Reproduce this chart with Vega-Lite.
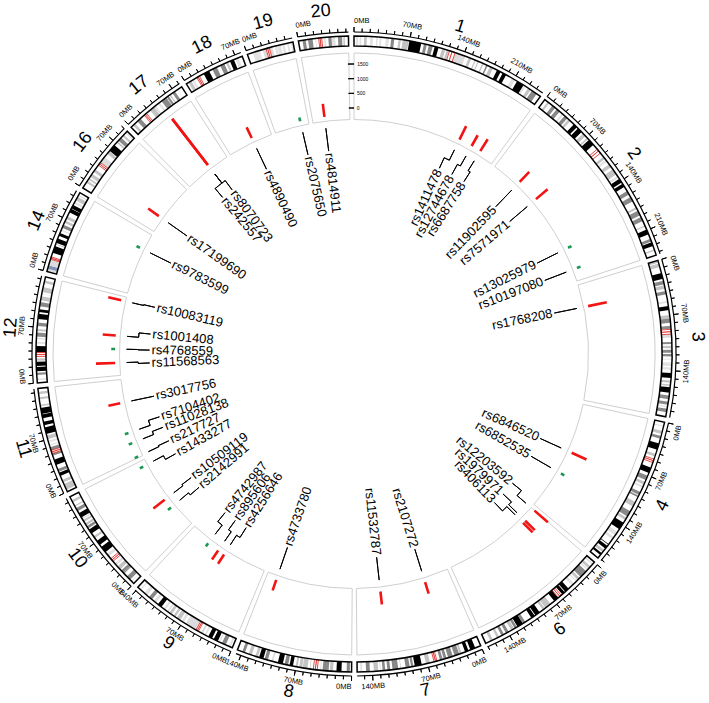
{
"$schema": "https://vega.github.io/schema/vega-lite/v6.json",
"width": 708, "height": 708, "autosize": "none", "padding": 0,
"background": "white",
"config": {"view": {"stroke": null}, "text": {"font": "Liberation Sans"}},
"resolve": {"scale": {"angle": "independent"}},
"datasets": {
"chroms": [
{"c":"1","s":0,"e":249.25,"m":124.63},{"c":"2","s":256.2,"e":499.4,"m":377.8},{"c":"3","s":506.35,"e":704.37,"m":605.36},
{"c":"4","s":711.32,"e":902.47,"m":806.9},{"c":"6","s":909.41,"e":1080.53,"m":994.97},{"c":"7","s":1087.48,"e":1246.62,"m":1167.05},
{"c":"8","s":1253.57,"e":1399.93,"m":1326.75},{"c":"9","s":1406.88,"e":1548.09,"m":1477.48},{"c":"10","s":1555.03,"e":1690.56,"m":1622.8},
{"c":"11","s":1697.51,"e":1832.52,"m":1765.01},{"c":"12","s":1839.46,"e":1973.31,"m":1906.39},{"c":"14","s":1980.26,"e":2087.61,"m":2033.94},
{"c":"16","s":2094.56,"e":2184.91,"m":2139.74},{"c":"17","s":2191.86,"e":2273.06,"m":2232.46},{"c":"18","s":2280.01,"e":2358.09,"m":2319.05},
{"c":"19","s":2365.03,"e":2424.16,"m":2394.6},{"c":"20","s":2431.11,"e":2494.14,"m":2462.63}
],
"bands": [
{"s":2.3,"e":5.4,"st":"gpos25"},{"s":7.2,"e":9.2,"st":"gpos25"},{"s":12.7,"e":16.2,"st":"gpos50"},{"s":20.4,"e":23.9,"st":"gpos25"},{"s":28,"e":30,"st":"gpos25"},{"s":32.3,"e":34.6,"st":"gpos25"},{"s":40.1,"e":44.1,"st":"gpos25"},{"s":46.8,"e":50.7,"st":"gpos75"},{"s":56.1,"e":59,"st":"gpos50"},{"s":61.3,"e":68.9,"st":"gpos50"},{"s":69.7,"e":84.9,"st":"gpos100"},{"s":88.4,"e":92,"st":"gpos75"},{"s":94.7,"e":99.7,"st":"gpos75"},{"s":102.2,"e":107.2,"st":"gpos100"},{"s":111.8,"e":116.1,"st":"gpos50"},{"s":117.8,"e":120.7,"st":"gpos50"},{"s":121.5,"e":125,"st":"acen"},{"s":125,"e":128.9,"st":"acen"},{"s":128.9,"e":142.6,"st":"gvar"},{"s":147,"e":150.3,"st":"gpos50"},{"s":155,"e":156.5,"st":"gpos50"},{"s":159.1,"e":160.5,"st":"gpos50"},{"s":165.5,"e":167.2,"st":"gpos50"},{"s":170.9,"e":172.9,"st":"gpos75"},{"s":176,"e":180.3,"st":"gpos50"},{"s":185.8,"e":190.8,"st":"gpos100"},{"s":193.8,"e":198.7,"st":"gpos100"},{"s":207.2,"e":211.5,"st":"gpos25"},{"s":214.5,"e":224.1,"st":"gpos100"},{"s":224.6,"e":227,"st":"gpos25"},{"s":230.7,"e":234.7,"st":"gpos50"},{"s":236.6,"e":243.7,"st":"gpos75"},
{"s":260.6,"e":263.3,"st":"gpos50"},{"s":268.4,"e":272.9,"st":"gpos75"},{"s":275.4,"e":280.2,"st":"gpos75"},{"s":284.1,"e":286.2,"st":"gpos25"},{"s":288.3,"e":292.8,"st":"gpos75"},{"s":294.8,"e":298,"st":"gpos50"},{"s":304,"e":309.1,"st":"gpos100"},{"s":311.2,"e":317.5,"st":"gpos100"},{"s":320.3,"e":324.8,"st":"gpos50"},{"s":327.7,"e":329.7,"st":"gpos50"},{"s":331.2,"e":339.5,"st":"gpos100"},{"s":346.7,"e":349.5,"st":"acen"},{"s":349.5,"e":353,"st":"acen"},{"s":358.9,"e":362.2,"st":"gpos50"},{"s":363.7,"e":366.4,"st":"gpos25"},{"s":370.6,"e":375,"st":"gpos50"},{"s":378.6,"e":386.1,"st":"gpos50"},{"s":388.7,"e":391.3,"st":"gpos25"},{"s":393,"e":398.4,"st":"gpos100"},{"s":400.3,"e":404.9,"st":"gpos100"},{"s":411.1,"e":416,"st":"gpos75"},{"s":419.9,"e":425.9,"st":"gpos75"},{"s":434.2,"e":436.8,"st":"gpos50"},{"s":439.2,"e":445.6,"st":"gpos75"},{"s":448.1,"e":453.6,"st":"gpos75"},{"s":459.5,"e":461.1,"st":"gpos50"},{"s":465.2,"e":471.5,"st":"gpos100"},{"s":477.7,"e":481.4,"st":"gpos75"},{"s":482.3,"e":487.2,"st":"gpos100"},{"s":491.8,"e":493.5,"st":"gpos50"},
{"s":506.4,"e":509.2,"st":"gpos50"},{"s":510.4,"e":515.1,"st":"gpos50"},{"s":522.8,"e":530.3,"st":"gpos100"},{"s":532.8,"e":537.3,"st":"gpos75"},{"s":538.5,"e":542.9,"st":"gpos50"},{"s":545.8,"e":550.1,"st":"gpos75"},{"s":558.7,"e":560.8,"st":"gpos25"},{"s":565,"e":570.1,"st":"gpos100"},{"s":576.2,"e":580.6,"st":"gpos50"},{"s":580.6,"e":586.2,"st":"gpos75"},{"s":589.9,"e":593.6,"st":"gpos75"},{"s":594.3,"e":597.4,"st":"acen"},{"s":597.4,"e":600.3,"st":"acen"},{"s":600.3,"e":604.7,"st":"gvar"},{"s":610.2,"e":612.6,"st":"gpos75"},{"s":614.8,"e":618,"st":"gpos50"},{"s":620.1,"e":623.7,"st":"gpos75"},{"s":625.4,"e":628.3,"st":"gpos75"},{"s":631.2,"e":632.5,"st":"gpos25"},{"s":635.9,"e":640.4,"st":"gpos25"},{"s":642.1,"e":645.1,"st":"gpos25"},{"s":649.2,"e":655.3,"st":"gpos100"},{"s":658.5,"e":661.4,"st":"gpos50"},{"s":663.4,"e":665.4,"st":"gpos50"},{"s":667.1,"e":674,"st":"gpos100"},{"s":677.3,"e":682.1,"st":"gpos75"},{"s":685.4,"e":689.1,"st":"gpos75"},{"s":690.9,"e":692.4,"st":"gpos25"},{"s":694.3,"e":698.7,"st":"gpos75"},
{"s":715.8,"e":717.3,"st":"gpos25"},{"s":722.6,"e":726.5,"st":"gpos50"},{"s":729.1,"e":732.6,"st":"gpos75"},{"s":739,"e":747.1,"st":"gpos100"},{"s":752.5,"e":755.9,"st":"gpos50"},{"s":759.5,"e":761.7,"st":"acen"},{"s":761.7,"e":764,"st":"acen"},{"s":770.8,"e":777.9,"st":"gpos100"},{"s":781.8,"e":787.6,"st":"gpos75"},{"s":790.2,"e":793.7,"st":"gpos50"},{"s":795.4,"e":798.2,"st":"gpos25"},{"s":804.1,"e":808.1,"st":"gpos75"},{"s":809.2,"e":811.4,"st":"gpos75"},{"s":818,"e":824.5,"st":"gpos50"},{"s":831.2,"e":838.6,"st":"gpos75"},{"s":840.5,"e":843.9,"st":"gpos50"},{"s":848,"e":857.6,"st":"gpos100"},{"s":861.6,"e":866.9,"st":"gpos25"},{"s":869.4,"e":872.9,"st":"gpos25"},{"s":880.5,"e":881.5,"st":"gpos100"},{"s":883.2,"e":887.6,"st":"gpos100"},{"s":889.8,"e":893.3,"st":"gpos50"},{"s":894.8,"e":897.8,"st":"gpos100"},
{"s":911.7,"e":913.6,"st":"gpos25"},{"s":916.5,"e":920,"st":"gpos50"},{"s":921,"e":922.8,"st":"gpos25"},{"s":924.6,"e":934.6,"st":"gpos75"},{"s":936.4,"e":939.8,"st":"gpos50"},{"s":941.5,"e":942.9,"st":"gpos25"},{"s":946,"e":949.9,"st":"gpos25"},{"s":955.6,"e":961.2,"st":"gpos100"},{"s":962.3,"e":966.4,"st":"gpos100"},{"s":968.1,"e":970.4,"st":"acen"},{"s":970.4,"e":972.7,"st":"acen"},{"s":972.8,"e":979.4,"st":"gpos100"},{"s":985.3,"e":993.3,"st":"gpos50"},{"s":994.3,"e":997.4,"st":"gpos50"},{"s":1002.5,"e":1008.9,"st":"gpos100"},{"s":1010,"e":1014.9,"st":"gpos100"},{"s":1024,"e":1027.7,"st":"gpos75"},{"s":1027.9,"e":1035.5,"st":"gpos100"},{"s":1036.5,"e":1039.7,"st":"gpos75"},{"s":1040.6,"e":1044.6,"st":"gpos50"},{"s":1048.4,"e":1052.2,"st":"gpos75"},{"s":1055,"e":1058.4,"st":"gpos75"},{"s":1061.9,"e":1064.9,"st":"gpos50"},{"s":1070.4,"e":1073.9,"st":"gpos50"},
{"s":1094.8,"e":1101.3,"st":"gpos100"},{"s":1104,"e":1108.4,"st":"gpos100"},{"s":1113,"e":1115.5,"st":"gpos50"},{"s":1116.3,"e":1122.5,"st":"gpos75"},{"s":1124.7,"e":1130.8,"st":"gpos75"},{"s":1132.9,"e":1136.5,"st":"gpos75"},{"s":1138,"e":1141.5,"st":"gpos75"},{"s":1145.5,"e":1147.4,"st":"acen"},{"s":1147.4,"e":1149.2,"st":"acen"},{"s":1154.5,"e":1159.7,"st":"gpos50"},{"s":1165,"e":1173.9,"st":"gpos100"},{"s":1175.7,"e":1178.6,"st":"gpos75"},{"s":1180.3,"e":1185.5,"st":"gpos75"},{"s":1191.3,"e":1192,"st":"gpos50"},{"s":1194.9,"e":1202.1,"st":"gpos75"},{"s":1204.9,"e":1208.6,"st":"gpos75"},{"s":1211.3,"e":1214.6,"st":"gpos75"},{"s":1216.7,"e":1217.9,"st":"gpos25"},{"s":1220.1,"e":1225.7,"st":"gpos50"},{"s":1230.6,"e":1235.4,"st":"gpos75"},{"s":1240.1,"e":1242.6,"st":"gpos25"},
{"s":1255.8,"e":1259.8,"st":"gpos75"},{"s":1266.3,"e":1272.6,"st":"gpos100"},{"s":1276.9,"e":1281,"st":"gpos50"},{"s":1282.4,"e":1290.1,"st":"gpos75"},{"s":1291.9,"e":1293.3,"st":"gpos25"},{"s":1296.7,"e":1299.2,"st":"acen"},{"s":1299.2,"e":1301.7,"st":"acen"},{"s":1305.8,"e":1306.2,"st":"gpos75"},{"s":1309.1,"e":1315.2,"st":"gpos50"},{"s":1315.8,"e":1319.6,"st":"gpos50"},{"s":1321.6,"e":1324.1,"st":"gpos50"},{"s":1327.5,"e":1331.9,"st":"gpos100"},{"s":1333.7,"e":1338.2,"st":"gpos75"},{"s":1340.5,"e":1346.9,"st":"gpos100"},{"s":1352.6,"e":1355.2,"st":"gpos25"},{"s":1359.8,"e":1364.1,"st":"gpos75"},{"s":1365.7,"e":1371.3,"st":"gpos100"},{"s":1372.8,"e":1376.1,"st":"gpos50"},{"s":1380.9,"e":1385.1,"st":"gpos50"},{"s":1390,"e":1393.5,"st":"gpos75"},
{"s":1409.1,"e":1411.5,"st":"gpos25"},{"s":1415.9,"e":1421.1,"st":"gpos75"},{"s":1423.5,"e":1425.4,"st":"gpos25"},{"s":1426.8,"e":1432.5,"st":"gpos100"},{"s":1434.9,"e":1440.1,"st":"gpos100"},{"s":1443.2,"e":1445.3,"st":"gpos25"},{"s":1447.9,"e":1450.5,"st":"gvar"},{"s":1454.2,"e":1455.9,"st":"acen"},{"s":1455.9,"e":1457.6,"st":"acen"},{"s":1457.6,"e":1472.8,"st":"gvar"},{"s":1475.6,"e":1479.1,"st":"gpos25"},{"s":1480.9,"e":1486.1,"st":"gpos50"},{"s":1488,"e":1491,"st":"gpos50"},{"s":1493.8,"e":1497.3,"st":"gpos50"},{"s":1498.7,"e":1500.8,"st":"gpos25"},{"s":1503.5,"e":1506.2,"st":"gpos25"},{"s":1509.5,"e":1515.1,"st":"gpos100"},{"s":1518.2,"e":1521.8,"st":"gpos25"},{"s":1524.6,"e":1529.4,"st":"gpos75"},{"s":1532.7,"e":1537.2,"st":"gpos25"},{"s":1542.8,"e":1544.3,"st":"gpos25"},
{"s":1558,"e":1558.8,"st":"gpos25"},{"s":1561.6,"e":1567.2,"st":"gpos75"},{"s":1572.3,"e":1573.6,"st":"gpos75"},{"s":1573.7,"e":1577.6,"st":"gpos75"},{"s":1579.6,"e":1584.6,"st":"gpos50"},{"s":1586.3,"e":1589.4,"st":"gpos25"},{"s":1593,"e":1595.2,"st":"acen"},{"s":1595.2,"e":1597.3,"st":"acen"},{"s":1601.1,"e":1604.9,"st":"gpos25"},{"s":1607.9,"e":1616.2,"st":"gpos100"},{"s":1619.5,"e":1625.6,"st":"gpos100"},{"s":1629.9,"e":1632.7,"st":"gpos50"},{"s":1637,"e":1642.9,"st":"gpos100"},{"s":1644.5,"e":1647.9,"st":"gpos75"},{"s":1649.1,"e":1652,"st":"gpos50"},{"s":1654.3,"e":1656.9,"st":"gpos50"},{"s":1658,"e":1659.9,"st":"gpos25"},{"s":1660.8,"e":1666.9,"st":"gpos100"},{"s":1669.9,"e":1674.1,"st":"gpos75"},{"s":1676.7,"e":1678.1,"st":"gpos50"},{"s":1682.5,"e":1685.6,"st":"gpos50"},
{"s":1700.3,"e":1708.2,"st":"gpos50"},{"s":1710.2,"e":1713.7,"st":"gpos50"},{"s":1719.2,"e":1723.6,"st":"gpos100"},{"s":1724.7,"e":1728.5,"st":"gpos75"},{"s":1733.9,"e":1741,"st":"gpos100"},{"s":1746.3,"e":1749.1,"st":"gpos75"},{"s":1749.1,"e":1751.2,"st":"acen"},{"s":1751.2,"e":1753.2,"st":"acen"},{"s":1753.2,"e":1757.4,"st":"gpos75"},{"s":1759.2,"e":1760.9,"st":"gpos25"},{"s":1763.4,"e":1765.9,"st":"gpos25"},{"s":1767.9,"e":1772.7,"st":"gpos50"},{"s":1774.6,"e":1783.1,"st":"gpos100"},{"s":1785.8,"e":1790.3,"st":"gpos100"},{"s":1794.7,"e":1799.6,"st":"gpos100"},{"s":1800.4,"e":1807.9,"st":"gpos100"},{"s":1810,"e":1812,"st":"gpos50"},{"s":1818.7,"e":1821.4,"st":"gpos50"},{"s":1825.3,"e":1828.3,"st":"gpos50"},
{"s":1842.8,"e":1844.9,"st":"gpos25"},{"s":1849.6,"e":1852.3,"st":"gpos75"},{"s":1854.3,"e":1859.5,"st":"gpos100"},{"s":1860.8,"e":1866,"st":"gpos100"},{"s":1867.3,"e":1870.2,"st":"gpos50"},{"s":1872.8,"e":1875.3,"st":"acen"},{"s":1875.3,"e":1877.7,"st":"acen"},{"s":1877.7,"e":1885.9,"st":"gpos100"},{"s":1888.6,"e":1891,"st":"gpos25"},{"s":1894.4,"e":1896.1,"st":"gpos25"},{"s":1897.6,"e":1902.6,"st":"gpos75"},{"s":1904.6,"e":1907.2,"st":"gpos50"},{"s":1911,"e":1915.2,"st":"gpos75"},{"s":1919.8,"e":1926.2,"st":"gpos100"},{"s":1928.5,"e":1932.1,"st":"gpos100"},{"s":1935.7,"e":1941.1,"st":"gpos75"},{"s":1943.3,"e":1948.5,"st":"gpos50"},{"s":1951.2,"e":1951.8,"st":"gpos25"},{"s":1953.8,"e":1960.2,"st":"gpos50"},{"s":1965.4,"e":1968.8,"st":"gpos50"},
{"s":1980.3,"e":1984,"st":"gvar"},{"s":1984,"e":1988.4,"st":"stalk"},{"s":1988.4,"e":1996.4,"st":"gvar"},{"s":1996.4,"e":1997.9,"st":"acen"},{"s":1997.9,"e":1999.4,"st":"acen"},{"s":2004.9,"e":2013.6,"st":"gpos100"},{"s":2015.6,"e":2016.9,"st":"gpos50"},{"s":2018.1,"e":2023.8,"st":"gpos100"},{"s":2027.5,"e":2031.2,"st":"gpos100"},{"s":2034.4,"e":2035.8,"st":"gpos25"},{"s":2038.4,"e":2042.4,"st":"gpos75"},{"s":2045.1,"e":2048.2,"st":"gpos50"},{"s":2050.5,"e":2054.1,"st":"gpos50"},{"s":2059.6,"e":2064.7,"st":"gpos100"},{"s":2065.2,"e":2070.1,"st":"gpos100"},{"s":2072.2,"e":2075,"st":"gpos25"},{"s":2076.6,"e":2081.7,"st":"gpos50"},{"s":2083.5,"e":2084.3,"st":"gpos50"},
{"s":2102.5,"e":2105.1,"st":"gpos50"},{"s":2107.2,"e":2109.4,"st":"gpos50"},{"s":2111.4,"e":2115.8,"st":"gpos50"},{"s":2118.8,"e":2122.7,"st":"gpos50"},{"s":2129.2,"e":2131.2,"st":"acen"},{"s":2131.2,"e":2133.2,"st":"acen"},{"s":2133.2,"e":2141.6,"st":"gvar"},{"s":2147.2,"e":2151.3,"st":"gpos50"},{"s":2152,"e":2161.3,"st":"gpos100"},{"s":2165.4,"e":2167.5,"st":"gpos50"},{"s":2168.7,"e":2173.8,"st":"gpos75"},{"s":2176.3,"e":2178.8,"st":"gpos50"},{"s":2181.7,"e":2183.3,"st":"gpos25"},
{"s":2195.2,"e":2198.4,"st":"gpos50"},{"s":2202.6,"e":2207.9,"st":"gpos75"},{"s":2214.1,"e":2215.9,"st":"acen"},{"s":2215.9,"e":2217.7,"st":"acen"},{"s":2223.7,"e":2230,"st":"gpos50"},{"s":2230.3,"e":2232.8,"st":"gpos25"},{"s":2236.8,"e":2239.3,"st":"gpos25"},{"s":2242.1,"e":2249.5,"st":"gpos75"},{"s":2250.2,"e":2253,"st":"gpos75"},{"s":2254.5,"e":2256.1,"st":"gpos50"},{"s":2259,"e":2262.8,"st":"gpos75"},{"s":2266.7,"e":2267.2,"st":"gpos25"},
{"s":2282.9,"e":2287.1,"st":"gpos50"},{"s":2288.5,"e":2290.9,"st":"gpos25"},{"s":2295.4,"e":2297.2,"st":"acen"},{"s":2297.2,"e":2299,"st":"acen"},{"s":2305,"e":2312.7,"st":"gpos100"},{"s":2317.2,"e":2323.5,"st":"gpos75"},{"s":2328.2,"e":2333.8,"st":"gpos75"},{"s":2336.2,"e":2339,"st":"gpos50"},{"s":2341.6,"e":2346.8,"st":"gpos100"},{"s":2348.7,"e":2353.1,"st":"gpos25"},
{"s":2371.9,"e":2378.9,"st":"gpos25"},{"s":2379,"e":2381.3,"st":"gpos25"},{"s":2385,"e":2389.4,"st":"gvar"},{"s":2389.4,"e":2391.5,"st":"acen"},{"s":2391.5,"e":2393.6,"st":"acen"},{"s":2393.6,"e":2397.4,"st":"gvar"},{"s":2400.5,"e":2403.3,"st":"gpos25"},{"s":2403.7,"e":2408.4,"st":"gpos25"},{"s":2410.2,"e":2413,"st":"gpos25"},{"s":2416.4,"e":2418.6,"st":"gpos25"},{"s":2421.3,"e":2424.1,"st":"gpos25"},
{"s":2436.2,"e":2440.3,"st":"gpos75"},{"s":2443.2,"e":2449,"st":"gpos75"},{"s":2452.4,"e":2453.4,"st":"gpos25"},{"s":2456.7,"e":2458.6,"st":"acen"},{"s":2458.6,"e":2460.5,"st":"acen"},{"s":2463.2,"e":2465.5,"st":"gpos25"},{"s":2468.7,"e":2472.8,"st":"gpos75"},{"s":2473.2,"e":2477.5,"st":"gpos25"},{"s":2480.9,"e":2486.1,"st":"gpos75"},{"s":2487.6,"e":2489.5,"st":"gpos50"}
],
"ticks": [
{"p":0,"t":"0MB"},{"p":10},{"p":20},{"p":30},{"p":40},{"p":50},{"p":60},{"p":70,"t":"70MB"},{"p":80},{"p":90},{"p":100},{"p":110},{"p":120},{"p":130},{"p":140,"t":"140MB"},{"p":150},{"p":160},{"p":170},{"p":180},{"p":190},{"p":200},{"p":210,"t":"210MB"},{"p":220},{"p":230},{"p":240},
{"p":256.2,"t":"0MB"},{"p":266.2},{"p":276.2},{"p":286.2},{"p":296.2},{"p":306.2},{"p":316.2},{"p":326.2,"t":"70MB"},{"p":336.2},{"p":346.2},{"p":356.2},{"p":366.2},{"p":376.2},{"p":386.2},{"p":396.2,"t":"140MB"},{"p":406.2},{"p":416.2},{"p":426.2},{"p":436.2},{"p":446.2},{"p":456.2},{"p":466.2,"t":"210MB"},{"p":476.2},{"p":486.2},{"p":496.2},
{"p":506.35,"t":"0MB"},{"p":516.35},{"p":526.35},{"p":536.35},{"p":546.35},{"p":556.35},{"p":566.35},{"p":576.35,"t":"70MB"},{"p":586.35},{"p":596.35},{"p":606.35},{"p":616.35},{"p":626.35},{"p":636.35},{"p":646.35,"t":"140MB"},{"p":656.35},{"p":666.35},{"p":676.35},{"p":686.35},{"p":696.35},
{"p":711.32,"t":"0MB"},{"p":721.32},{"p":731.32},{"p":741.32},{"p":751.32},{"p":761.32},{"p":771.32},{"p":781.32,"t":"70MB"},{"p":791.32},{"p":801.32},{"p":811.32},{"p":821.32},{"p":831.32},{"p":841.32},{"p":851.32,"t":"140MB"},{"p":861.32},{"p":871.32},{"p":881.32},{"p":891.32},{"p":901.32},
{"p":909.41,"t":"0MB"},{"p":919.41},{"p":929.41},{"p":939.41},{"p":949.41},{"p":959.41},{"p":969.41},{"p":979.41,"t":"70MB"},{"p":989.41},{"p":999.41},{"p":1009.41},{"p":1019.41},{"p":1029.41},{"p":1039.41},{"p":1049.41,"t":"140MB"},{"p":1059.41},{"p":1069.41},{"p":1079.41},
{"p":1087.48,"t":"0MB"},{"p":1097.48},{"p":1107.48},{"p":1117.48},{"p":1127.48},{"p":1137.48},{"p":1147.48},{"p":1157.48,"t":"70MB"},{"p":1167.48},{"p":1177.48},{"p":1187.48},{"p":1197.48},{"p":1207.48},{"p":1217.48},{"p":1227.48,"t":"140MB"},{"p":1237.48},
{"p":1253.57,"t":"0MB"},{"p":1263.57},{"p":1273.57},{"p":1283.57},{"p":1293.57},{"p":1303.57},{"p":1313.57},{"p":1323.57,"t":"70MB"},{"p":1333.57},{"p":1343.57},{"p":1353.57},{"p":1363.57},{"p":1373.57},{"p":1383.57},{"p":1393.57,"t":"140MB"},
{"p":1406.88,"t":"0MB"},{"p":1416.88},{"p":1426.88},{"p":1436.88},{"p":1446.88},{"p":1456.88},{"p":1466.88},{"p":1476.88,"t":"70MB"},{"p":1486.88},{"p":1496.88},{"p":1506.88},{"p":1516.88},{"p":1526.88},{"p":1536.88},{"p":1546.88,"t":"140MB"},
{"p":1555.03,"t":"0MB"},{"p":1565.03},{"p":1575.03},{"p":1585.03},{"p":1595.03},{"p":1605.03},{"p":1615.03},{"p":1625.03,"t":"70MB"},{"p":1635.03},{"p":1645.03},{"p":1655.03},{"p":1665.03},{"p":1675.03},{"p":1685.03},
{"p":1697.51,"t":"0MB"},{"p":1707.51},{"p":1717.51},{"p":1727.51},{"p":1737.51},{"p":1747.51},{"p":1757.51},{"p":1767.51,"t":"70MB"},{"p":1777.51},{"p":1787.51},{"p":1797.51},{"p":1807.51},{"p":1817.51},{"p":1827.51},
{"p":1839.46,"t":"0MB"},{"p":1849.46},{"p":1859.46},{"p":1869.46},{"p":1879.46},{"p":1889.46},{"p":1899.46},{"p":1909.46,"t":"70MB"},{"p":1919.46},{"p":1929.46},{"p":1939.46},{"p":1949.46},{"p":1959.46},{"p":1969.46},
{"p":1980.26,"t":"0MB"},{"p":1990.26},{"p":2000.26},{"p":2010.26},{"p":2020.26},{"p":2030.26},{"p":2040.26},{"p":2050.26,"t":"70MB"},{"p":2060.26},{"p":2070.26},{"p":2080.26},
{"p":2094.56,"t":"0MB"},{"p":2104.56},{"p":2114.56},{"p":2124.56},{"p":2134.56},{"p":2144.56},{"p":2154.56},{"p":2164.56,"t":"70MB"},{"p":2174.56},{"p":2184.56},
{"p":2191.86,"t":"0MB"},{"p":2201.86},{"p":2211.86},{"p":2221.86},{"p":2231.86},{"p":2241.86},{"p":2251.86},{"p":2261.86,"t":"70MB"},{"p":2271.86},
{"p":2280.01,"t":"0MB"},{"p":2290.01},{"p":2300.01},{"p":2310.01},{"p":2320.01},{"p":2330.01},{"p":2340.01},{"p":2350.01,"t":"70MB"},
{"p":2365.03,"t":"0MB"},{"p":2375.03},{"p":2385.03},{"p":2395.03},{"p":2405.03},{"p":2415.03},
{"p":2431.11,"t":"0MB"},{"p":2441.11},{"p":2451.11},{"p":2461.11},{"p":2471.11},{"p":2481.11},{"p":2491.11}
],
"snps": [
{"id":"rs1411478","pos":182.0,"lab":171.5,"value":273,"g":"A"},
{"id":"rs12744678","pos":204.9,"lab":198.7,"value":181,"g":"A"},
{"id":"rs6687758","pos":221.6,"lab":226.0,"value":239,"g":"A"},
{"id":"rs11902595","pos":305.0,"lab":305.0,"value":228,"g":"A"},
{"id":"rs7571971","pos":344.6,"lab":344.6,"value":280,"g":"A"},
{"id":"rs13025979","pos":441.9,"lab":441.9,"value":-110,"g":"B"},
{"id":"rs10197080","pos":478.7,"lab":478.7,"value":-110,"g":"B"},
{"id":"rs1768208","pos":545.0,"lab":545.0,"value":409,"g":"A"},
{"id":"rs6846520","pos":794.8,"lab":794.8,"value":317,"g":"A"},
{"id":"rs6852535","pos":833.7,"lab":833.7,"value":-110,"g":"B"},
{"id":"rs12203592","pos":909.8,"lab":897.6,"value":365,"g":"A"},
{"id":"rs1979971","pos":932.7,"lab":925.4,"value":218,"g":"A"},
{"id":"rs406113","pos":937.6,"lab":949.0,"value":218,"g":"A"},
{"id":"rs2107272","pos":1130.3,"lab":1130.3,"value":170,"g":"A"},
{"id":"rs11532787","pos":1206.4,"lab":1206.4,"value":205,"g":"A"},
{"id":"rs4733780","pos":1382.5,"lab":1382.5,"value":136,"g":"A"},
{"id":"rs4256646","pos":1479.4,"lab":1471.8,"value":136,"g":"A"},
{"id":"rs895606","pos":1491.2,"lab":1497.2,"value":130,"g":"A"},
{"id":"rs4742987","pos":1511.8,"lab":1522.2,"value":-110,"g":"B"},
{"id":"rs2142991","pos":1597.9,"lab":1593.0,"value":-110,"g":"B"},
{"id":"rs10509119","pos":1614.6,"lab":1617.4,"value":245,"g":"A"},
{"id":"rs1433277","pos":1680.6,"lab":1672.9,"value":-110,"g":"B"},
{"id":"rs217727","pos":1699.3,"lab":1701.4,"value":-110,"g":"B"},
{"id":"rs11028138","pos":1723.7,"lab":1729.9,"value":-110,"g":"B"},
{"id":"rs7104402","pos":1741.7,"lab":1751.5,"value":-110,"g":"B"},
{"id":"rs3017756","pos":1793.1,"lab":1793.1,"value":170,"g":"A"},
{"id":"rs11568563","pos":1860.9,"lab":1858.4,"value":416,"g":"A"},
{"id":"rs4768559","pos":1884.1,"lab":1883.4,"value":-110,"g":"B"},
{"id":"rs1001408","pos":1906.7,"lab":1914.7,"value":205,"g":"A"},
{"id":"rs10083119","pos":1966.1,"lab":1967.5,"value":211,"g":"A"},
{"id":"rs9783599","pos":2059.2,"lab":2059.2,"value":-110,"g":"B"},
{"id":"rs17199690","pos":2120.7,"lab":2120.7,"value":205,"g":"A"},
{"id":"rs242557","pos":2239.1,"lab":2223.2,"value":1745,"g":"A"},
{"id":"rs8070723","pos":2239.1,"lab":2246.8,"value":1745,"g":"A"},
{"id":"rs4890490","pos":2325.0,"lab":2325.0,"value":164,"g":"A"},
{"id":"rs2075650","pos":2410.7,"lab":2410.7,"value":-110,"g":"B"},
{"id":"rs4814911","pos":2451.7,"lab":2451.7,"value":205,"g":"A"}
],
"yaxis": [{"v":0,"t":"0"},{"v":500,"t":"500"},{"v":1000,"t":"1000"},{"v":1500,"t":"1500"}]
},
"layer": [
{"data":{"name":"chroms"},"mark":{"type":"arc","radius":301,"radius2":234.5,"fill":null,"filled":false,"stroke":"#cfcfcf","strokeWidth":1},
 "encoding":{"theta":{"field":"s","type":"quantitative","scale":{"domain":[0,2501.09],"range":[0,6.283185]},"stack":null},"theta2":{"field":"e"}}},
{"data":{"name":"snps"},"mark":{"type":"arc","filled":false,"strokeWidth":2.6,"strokeCap":"butt"},
 "encoding":{"theta":{"field":"pos","type":"quantitative","scale":{"domain":[0,2501.09],"range":[0,6.283185]},"stack":null},"theta2":{"field":"pos"},
  "radius":{"field":"value","type":"quantitative","scale":{"type":"linear","domain":[0,1500],"range":[246,290],"zero":false}},"radius2":{"datum":-240},
  "stroke":{"field":"g","type":"nominal","scale":{"domain":["A","B"],"range":["#f21313","#1a9850"]},"legend":null}}},
{"data":{"name":"snps"},"mark":{"type":"arc","radius":227.5,"radius2":216,"filled":false,"stroke":"black","strokeWidth":1},
 "encoding":{"theta":{"field":"pos","type":"quantitative","scale":{"domain":[0,2501.09],"range":[0,6.283185]},"stack":null},"theta2":{"field":"pos"}}},
{"data":{"name":"snps"},"mark":{"type":"arc","radius":216,"radius2":216,"filled":false,"stroke":"black","strokeWidth":1},
 "encoding":{"theta":{"field":"pos","type":"quantitative","scale":{"domain":[0,2501.09],"range":[0,6.283185]},"stack":null},"theta2":{"field":"lab"}}},
{"data":{"name":"snps"},"mark":{"type":"arc","radius":216,"radius2":204.5,"filled":false,"stroke":"black","strokeWidth":1},
 "encoding":{"theta":{"field":"lab","type":"quantitative","scale":{"domain":[0,2501.09],"range":[0,6.283185]},"stack":null},"theta2":{"field":"lab"}}},
{"data":{"name":"snps"},"transform":[{"filter":"datum.lab < 1250.5"}],
 "mark":{"type":"text","radius":202.5,"align":"right","baseline":"middle","fontSize":13,"font":"Liberation Sans","color":"black"},
 "encoding":{"theta":{"field":"lab","type":"quantitative","scale":{"domain":[0,2501.09],"range":[0,6.283185]}},
  "angle":{"field":"lab","type":"quantitative","scale":{"domain":[0,2501.09],"range":[-90,270]},"legend":null},
  "text":{"field":"id"}}},
{"data":{"name":"snps"},"transform":[{"filter":"datum.lab >= 1250.5"}],
 "mark":{"type":"text","radius":202.5,"align":"left","baseline":"middle","fontSize":13,"font":"Liberation Sans","color":"black"},
 "encoding":{"theta":{"field":"lab","type":"quantitative","scale":{"domain":[0,2501.09],"range":[0,6.283185]}},
  "angle":{"field":"lab","type":"quantitative","scale":{"domain":[0,2501.09],"range":[-270,90]},"legend":null},
  "text":{"field":"id"}}},
{"data":{"name":"bands"},"transform":[{"filter":"datum.st != 'acen'"}],
 "mark":{"type":"arc","radius":318,"radius2":308,"strokeWidth":0},
 "encoding":{"theta":{"field":"s","type":"quantitative","scale":{"domain":[0,2501.09],"range":[0,6.283185]},"stack":null},"theta2":{"field":"e"},
  "fill":{"field":"st","type":"nominal","scale":{"domain":["gpos100","gpos75","gpos50","gpos25","gvar","stalk"],"range":["#000000","#888888","#c4c4c4","#e2e2e2","#dcdcdc","#8093b8"]},"legend":null}}},
{"data":{"name":"bands"},"transform":[{"filter":"datum.st == 'acen'"}],
 "mark":{"type":"arc","radius":318,"radius2":308,"fill":"white","stroke":"#e0201b","strokeWidth":0.8},
 "encoding":{"theta":{"field":"s","type":"quantitative","scale":{"domain":[0,2501.09],"range":[0,6.283185]},"stack":null},"theta2":{"field":"e"}}},
{"data":{"name":"chroms"},"mark":{"type":"arc","radius":318,"radius2":308,"filled":false,"stroke":"black","strokeWidth":1.5},
 "encoding":{"theta":{"field":"s","type":"quantitative","scale":{"domain":[0,2501.09],"range":[0,6.283185]},"stack":null},"theta2":{"field":"e"}}},
{"data":{"name":"chroms"},"mark":{"type":"arc","radius":322,"radius2":322,"filled":false,"stroke":"black","strokeWidth":1.2},
 "encoding":{"theta":{"field":"s","type":"quantitative","scale":{"domain":[0,2501.09],"range":[0,6.283185]},"stack":null},"theta2":{"field":"e"}}},
{"data":{"name":"ticks"},"transform":[{"filter":"!datum.t"}],"mark":{"type":"arc","radius":325.5,"radius2":322,"filled":false,"stroke":"black","strokeWidth":0.9},
 "encoding":{"theta":{"field":"p","type":"quantitative","scale":{"domain":[0,2501.09],"range":[0,6.283185]},"stack":null},"theta2":{"field":"p"}}},
{"data":{"name":"ticks"},"transform":[{"filter":"datum.t"}],"mark":{"type":"arc","radius":327,"radius2":322,"filled":false,"stroke":"black","strokeWidth":1},
 "encoding":{"theta":{"field":"p","type":"quantitative","scale":{"domain":[0,2501.09],"range":[0,6.283185]},"stack":null},"theta2":{"field":"p"}}},
{"data":{"name":"ticks"},"transform":[{"filter":"datum.t == '0MB' && (datum.p < 625.26 || datum.p >= 1875.8)"}],
 "mark":{"type":"text","radius":333,"align":"left","baseline":"middle","fontSize":7.5,"font":"Liberation Sans"},
 "encoding":{"theta":{"field":"p","type":"quantitative","scale":{"domain":[0,2501.09],"range":[0,6.283185]}},
  "angle":{"field":"p","type":"quantitative","scale":{"domain":[0,2501.09],"range":[0,360]},"legend":null},"text":{"field":"t"}}},
{"data":{"name":"ticks"},"transform":[{"filter":"datum.t && datum.t != '0MB' && (datum.p < 625.26 || datum.p >= 1875.8)"}],
 "mark":{"type":"text","radius":333,"align":"center","baseline":"middle","fontSize":7.5,"font":"Liberation Sans"},
 "encoding":{"theta":{"field":"p","type":"quantitative","scale":{"domain":[0,2501.09],"range":[0,6.283185]}},
  "angle":{"field":"p","type":"quantitative","scale":{"domain":[0,2501.09],"range":[0,360]},"legend":null},"text":{"field":"t"}}},
{"data":{"name":"ticks"},"transform":[{"filter":"datum.t == '0MB' && datum.p >= 625.26 && datum.p < 1875.8"}],
 "mark":{"type":"text","radius":333,"align":"right","baseline":"middle","fontSize":7.5,"font":"Liberation Sans"},
 "encoding":{"theta":{"field":"p","type":"quantitative","scale":{"domain":[0,2501.09],"range":[0,6.283185]}},
  "angle":{"field":"p","type":"quantitative","scale":{"domain":[0,2501.09],"range":[-180,180]},"legend":null},"text":{"field":"t"}}},
{"data":{"name":"ticks"},"transform":[{"filter":"datum.t && datum.t != '0MB' && datum.p >= 625.26 && datum.p < 1875.8"}],
 "mark":{"type":"text","radius":333,"align":"center","baseline":"middle","fontSize":7.5,"font":"Liberation Sans"},
 "encoding":{"theta":{"field":"p","type":"quantitative","scale":{"domain":[0,2501.09],"range":[0,6.283185]}},
  "angle":{"field":"p","type":"quantitative","scale":{"domain":[0,2501.09],"range":[-180,180]},"legend":null},"text":{"field":"t"}}},
{"data":{"name":"chroms"},"transform":[{"filter":"datum.m < 625.26 || datum.m >= 1875.8"}],
 "mark":{"type":"text","radius":344,"align":"center","baseline":"middle","fontSize":18,"font":"Liberation Sans"},
 "encoding":{"theta":{"field":"m","type":"quantitative","scale":{"domain":[0,2501.09],"range":[0,6.283185]}},
  "angle":{"field":"m","type":"quantitative","scale":{"domain":[0,2501.09],"range":[0,360]},"legend":null},"text":{"field":"c"}}},
{"data":{"name":"chroms"},"transform":[{"filter":"datum.m >= 625.26 && datum.m < 1875.8"}],
 "mark":{"type":"text","radius":344,"align":"center","baseline":"middle","fontSize":18,"font":"Liberation Sans"},
 "encoding":{"theta":{"field":"m","type":"quantitative","scale":{"domain":[0,2501.09],"range":[0,6.283185]}},
  "angle":{"field":"m","type":"quantitative","scale":{"domain":[0,2501.09],"range":[-180,180]},"legend":null},"text":{"field":"c"}}},
{"data":{"name":"yaxis"},"mark":{"type":"arc","filled":false,"stroke":"black","strokeWidth":1},
 "encoding":{"theta":{"datum":2492.8,"type":"quantitative","scale":{"domain":[0,2501.09],"range":[0,6.283185]},"stack":null},"theta2":{"datum":2501.09},
  "radius":{"field":"v","type":"quantitative","scale":{"type":"linear","domain":[0,1500],"range":[246,290],"zero":false}},"radius2":{"field":"v"}}},
{"data":{"name":"yaxis"},"mark":{"type":"text","align":"left","baseline":"middle","fontSize":5,"font":"Liberation Sans"},
 "encoding":{"theta":{"datum":4.5,"type":"quantitative","scale":{"domain":[0,2501.09],"range":[0,6.283185]}},
  "radius":{"field":"v","type":"quantitative","scale":{"type":"linear","domain":[0,1500],"range":[246,290],"zero":false}},"text":{"field":"t"}}}
]
}
